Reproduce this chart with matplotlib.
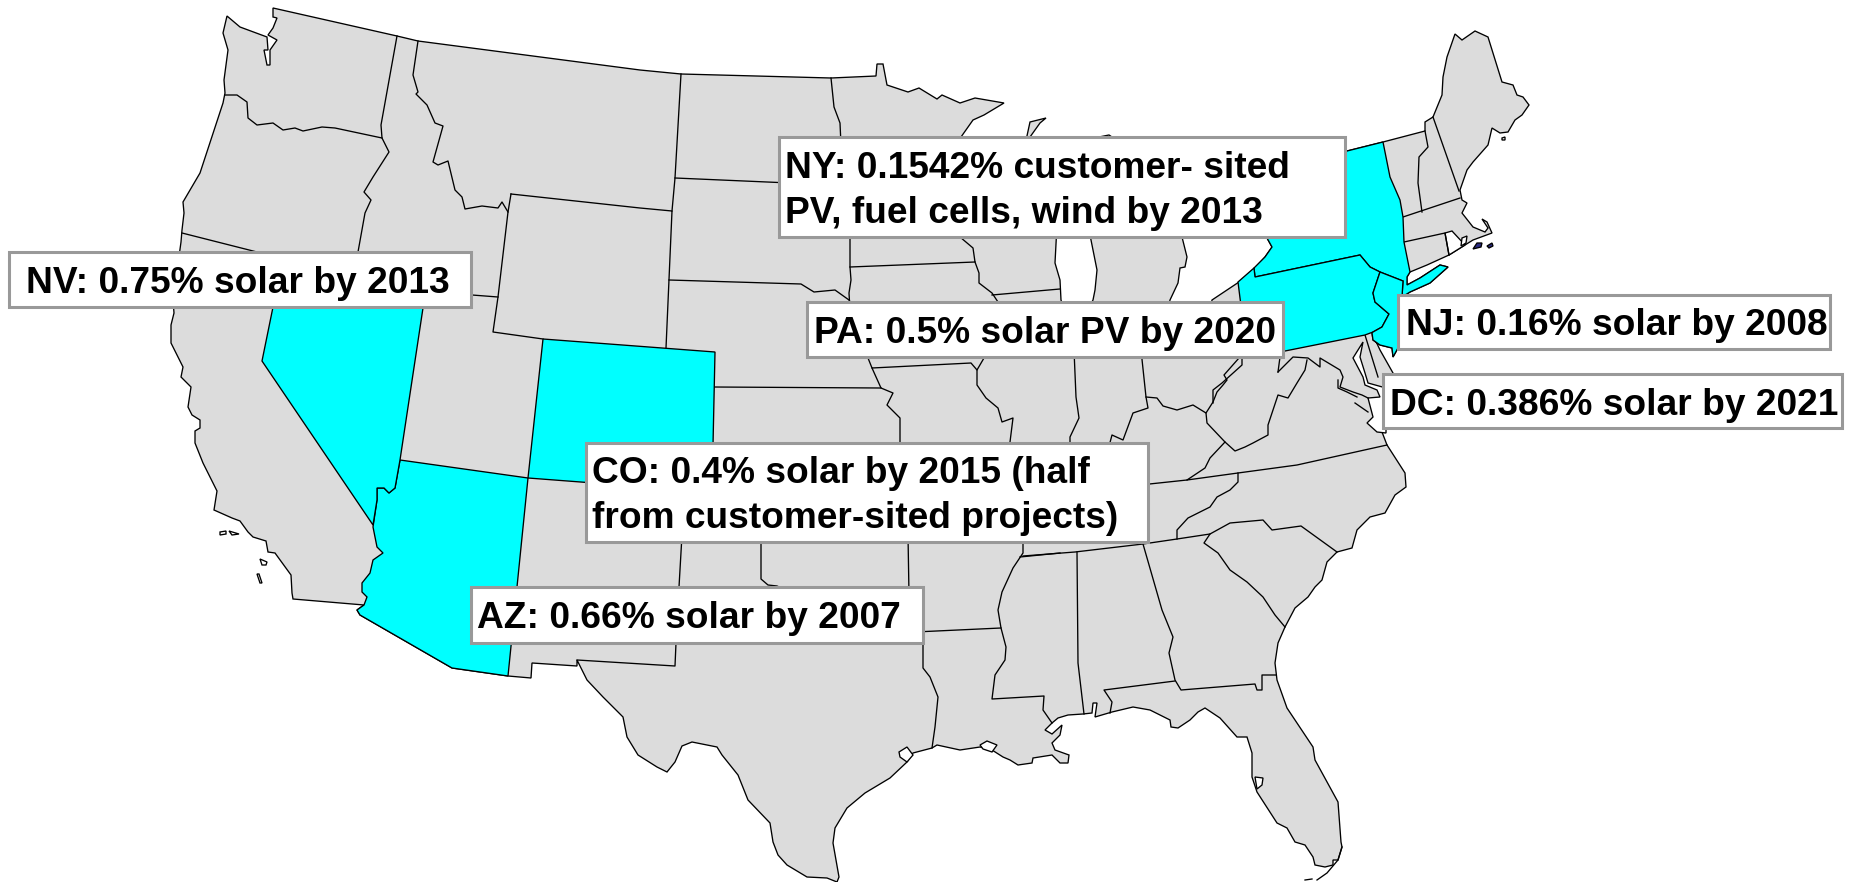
import matplotlib
matplotlib.use("Agg")
import matplotlib.pyplot as plt
from matplotlib.patches import Polygon, Rectangle

plt.rcParams['font.family'] = ['Liberation Sans', 'DejaVu Sans']

LAND = [(273,8),(397,36),(418,41),(640,70),(681,74),(831,78),(876,76),(877,64),(883,64),(887,85),(908,92),(919,88),(937,99),(942,95),(960,103),(975,98),(1004,103),(984,115),(973,120),(961,137),(955,145),(1025,145),(1030,122),(1046,118),(1040,123),(1030,137),(1030,145),(1099,145),(1099,137),(1109,135),(1112,137),(1115,145),(1178,230),(1182,237),(1187,257),(1185,267),(1180,268),(1178,283),(1170,300),(1168,310),(1210,310),(1212,300),(1239,282),(1255,268),(1265,257),(1272,247),(1267,238),(1265,228),(1340,160),(1347,151),(1383,142),(1425,131),(1425,122),(1433,117),(1442,95),(1443,77),(1447,57),(1455,34),(1462,40),(1475,31),(1488,37),(1502,82),(1513,85),(1517,95),(1523,97),(1529,105),(1522,115),(1515,120),(1508,132),(1500,133),(1492,128),(1488,145),(1473,162),(1467,170),(1460,190),(1462,200),(1467,203),(1462,213),(1473,227),(1485,232),(1488,228),(1482,219),(1487,222),(1492,233),(1473,240),(1465,245),(1449,255),(1427,265),(1410,272),(1407,277),(1407,285),(1420,278),(1440,265),(1448,267),(1430,283),(1410,292),(1402,297),(1400,330),(1398,348),(1393,357),(1392,348),(1380,345),(1373,340),(1372,333),(1380,350),(1393,373),(1396,390),(1390,420),(1382,432),(1387,445),(1405,473),(1406,487),(1395,495),(1385,513),(1370,517),(1357,530),(1352,548),(1337,552),(1327,562),(1322,580),(1315,587),(1308,597),(1295,608),(1285,627),(1278,643),(1275,663),(1277,680),(1287,708),(1313,747),(1315,760),(1338,802),(1341,842),(1342,847),(1338,860),(1333,860),(1333,865),(1325,867),(1315,865),(1313,857),(1305,845),(1295,842),(1287,828),(1277,823),(1257,792),(1252,777),(1252,753),(1247,737),(1237,737),(1220,718),(1205,708),(1198,712),(1190,720),(1178,728),(1171,727),(1170,720),(1150,710),(1133,707),(1112,712),(1095,717),(1097,703),(1093,703),(1092,713),(1083,714),(1068,715),(1058,718),(1052,723),(1045,730),(1052,734),(1062,725),(1060,735),(1052,743),(1055,750),(1069,755),(1068,763),(1060,763),(1052,755),(1033,758),(1032,763),(1018,765),(1010,760),(1003,757),(992,750),(980,747),(960,750),(937,745),(932,748),(913,753),(907,762),(890,778),(865,793),(847,808),(835,828),(833,843),(839,877),(837,882),(827,878),(807,877),(787,865),(778,855),(773,842),(770,823),(748,800),(738,775),(722,755),(717,747),(692,742),(682,746),(675,762),(667,772),(657,767),(638,755),(627,737),(623,717),(603,697),(587,680),(577,660),(577,666),(532,663),(531,678),(508,676),(452,668),(360,615),(357,610),(364,605),(293,599),(292,593),(291,575),(275,553),(268,552),(266,541),(253,537),(248,532),(240,521),(232,518),(214,510),(217,491),(213,483),(203,463),(195,443),(195,431),(200,428),(200,420),(192,415),(188,407),(191,387),(181,377),(183,367),(171,343),(171,325),(174,313),(173,300),(181,242),(182,230),(184,213),(183,202),(200,173),(223,103),(225,93),(224,80),(228,50),(223,33),(227,16),(240,27),(267,37),(268,50),(264,50),(267,65),(270,65),(270,50),(277,40),(268,35),(273,28),(277,18),(273,17)]

ARIZONA = [(400,460),(528,478),(508,676),(452,668),(360,615),(357,610),(364,605),(367,597),(362,592),(362,583),(370,573),(373,560),(383,553),(377,547),(373,527),(377,500),(377,488),(384,488),(389,493),(395,488)]
NEVADA = [(283,258),(431,262),(423,308),(400,460),(395,488),(389,493),(384,488),(377,488),(377,500),(373,525),(262,361)]
COLORADO = [(543,339),(715,352),(712,492),(528,478)]
NEW_YORK = [(1267,238),(1272,247),(1265,257),(1254,268),(1255,277),(1360,255),(1370,267),(1380,272),(1403,281),(1402,297),(1410,292),(1430,283),(1448,267),(1440,265),(1420,278),(1407,285),(1407,277),(1410,272),(1404,242),(1403,217),(1400,200),(1390,177),(1383,142),(1347,151),(1330,170),(1280,220)]
PENNSYLVANIA = [(1238,282),(1254,268),(1255,277),(1360,255),(1370,267),(1380,272),(1373,293),(1375,302),(1389,314),(1382,327),(1373,332),(1365,335),(1250,358),(1244,330)]
NEW_JERSEY = [(1380,272),(1403,281),(1402,297),(1398,348),(1393,357),(1392,348),(1380,345),(1373,340),(1372,333),(1373,332),(1382,327),(1389,314),(1375,302),(1373,293)]
HIGHLIGHTED = [ARIZONA, NEVADA, COLORADO, NEW_YORK, PENNSYLVANIA, NEW_JERSEY]

LAKE_MICHIGAN = [(1057,225),(1088,225),(1097,270),(1095,290),(1093,300),(1085,315),(1066,315),(1061,300),(1060,280),(1055,263)]
CHESAPEAKE = [(1363,342),(1353,358),(1363,377),(1365,385),(1377,390),(1380,397),(1368,398),(1373,417),(1367,423),(1377,432),(1386,433),(1386,388),(1368,383),(1365,373),(1360,357)]
SABINE = [(907,747),(899,752),(900,757),(907,762),(913,755)]
VERMILION = [(980,745),(987,741),(997,745),(992,752),(983,749)]
TAMPA = [(1255,777),(1263,778),(1262,785),(1257,789)]
RHODE_ISLAND = [(1445,233),(1452,231),(1465,245),(1449,255)]
WHITE_AREAS = [LAKE_MICHIGAN, CHESAPEAKE, SABINE, VERMILION, TAMPA, RHODE_ISLAND]

ISLANDS = [[(220,532),(226,531),(226,534),(220,535)],[(229,531),(239,534),(232,535)],[(260,559),(267,562),(266,565),(262,565)],[(257,574),(259,574),(262,583),(260,583)],[(1502,138),(1505,137),(1505,140),(1502,140)],[(1462,238),(1467,236),(1466,243),(1461,246)]]
BLUE_ISLANDS = [[(1473,249),(1477,243),(1482,243),(1481,247)],[(1487,246),(1492,243),(1493,246),(1489,248)]]
FLORIDA_KEYS = [[(1317,880),(1327,873),(1338,860),(1342,847)],[(1305,880),(1312,879)]]

BORDERS = [
 [(225,95),(237,95),(247,102),(248,118),(257,125),(273,123),(283,130),(295,128),(303,131),(322,127),(335,128),(382,138)],
 [(397,36),(381,125),(382,138),(389,152),(373,177),(364,192),(371,200),(365,213),(358,252),(350,300)],
 [(182,233),(257,252),(300,262)],
 [(418,41),(413,75),(418,92),(416,94),(427,105),(435,123),(443,126),(433,162),(438,165),(448,161),(455,190),(462,197),(465,209),(482,206),(498,208),(502,202),(508,212)],
 [(511,194),(508,212),(498,297),(493,332),(543,339)],
 [(472,295),(498,297)],
 [(511,194),(640,208),(672,211),(666,348)],
 [(681,74),(675,178),(672,211)],
 [(675,178),(790,183)],
 [(831,78),(834,107),(840,123),(841,145)],
 [(850,230),(850,267),(851,280),(849,293),(850,310)],
 [(669,280),(801,284),(814,292),(835,290),(849,300),(855,310)],
 [(850,267),(975,262),(973,248),(960,237),(955,230)],
 [(975,262),(979,273),(979,283),(992,293),(998,302),(1002,310)],
 [(992,295),(1060,289)],
 [(868,350),(868,358),(872,368),(971,363),(977,370),(984,358),(986,350)],
 [(872,368),(881,388),(893,393),(887,405),(900,418),(900,450)],
 [(713,387),(881,388)],
 [(977,370),(977,385),(986,398),(998,408),(1002,422),(1013,418),(1009,450)],
 [(1074,350),(1076,397),(1079,418),(1070,437),(1070,450)],
 [(1141,350),(1146,397),(1148,408),(1133,413),(1123,440),(1112,435),(1108,450)],
 [(1146,397),(1157,398),(1163,406),(1177,410),(1193,405),(1206,413),(1213,402),(1217,392),(1223,385),(1227,380),(1224,375),(1239,358),(1242,350)],
 [(1206,413),(1207,423),(1225,442),(1210,458),(1205,468),(1187,480)],
 [(1225,442),(1235,451),(1245,447),(1253,443),(1268,435),(1268,425),(1278,395),(1288,398),(1297,383),(1305,370),(1307,360)],
 [(1140,485),(1187,480),(1238,473),(1297,465),(1387,445)],
 [(1238,473),(1238,482),(1230,490),(1217,497),(1210,507),(1188,518),(1177,530),(1177,539)],
 [(1023,556),(1075,552),(1143,544),(1177,539),(1210,534),(1230,523),(1263,520),(1272,530),(1301,526),(1337,552)],
 [(1210,534),(1204,543),(1218,553),(1230,570),(1247,582),(1263,597),(1275,615),(1285,627)],
 [(1143,544),(1162,610),(1173,637),(1169,653),(1175,680),(1181,690),(1255,684),(1257,690),(1262,690),(1262,675),(1276,675)],
 [(1110,713),(1112,702),(1104,690),(1175,681)],
 [(1077,552),(1078,663),(1084,714)],
 [(1023,535),(1023,553),(1013,568),(1002,592),(998,610),(1001,628),(1006,647),(1005,660),(995,675),(992,699),(1044,696),(1043,710),(1052,723)],
 [(915,632),(1001,628)],
 [(923,635),(923,668),(930,677),(938,697),(935,727),(932,748)],
 [(761,535),(761,579),(768,585),(777,586),(790,592)],
 [(908,535),(909,595)],
 [(682,535),(679,587),(676,643),(675,666),(577,660)],
 [(1020,557),(1060,553)],
 [(1404,242),(1445,233),(1449,255)],
 [(1403,217),(1460,198)],
 [(1425,131),(1428,147),(1419,157),(1418,183),(1422,212)],
 [(1433,117),(1459,191)],
 [(1365,335),(1378,377)],
 [(1242,350),(1242,365),(1222,383),(1213,390),(1213,403)],
 [(1278,372),(1280,357)],
 [(1278,372),(1293,357),(1308,358),(1320,367),(1320,358),(1340,370),(1343,377),(1340,387),(1353,392),(1362,395),(1368,398)],
 [(1338,380),(1338,388),(1347,392),(1357,397)],
 [(1355,403),(1368,412)],
]

LABEL_LINES = [
 ["NV: 0.75% solar by 2013"],
 ["NY: 0.1542% customer- sited", "PV, fuel cells, wind by 2013"],
 ["PA: 0.5% solar PV by 2020"],
 ["NJ: 0.16% solar by 2008"],
 ["DC: 0.386% solar by 2021"],
 ["CO: 0.4% solar by 2015 (half", "from customer-sited projects)"],
 ["AZ: 0.66% solar by 2007"],
]
LABEL_BOXES = [(9,252,471,307),(779,137,1345,237),(807,302,1283,357),(1398,295,1830,349),(1383,374,1842,428),(586,443,1148,542),(471,587,923,643)]
LABEL_BASELINES = [[293],[178,223],[343],[335],[415],[483,528],[628]]
LABEL_LEFT = [26,785,814,1406,1390,592,477]

LAND_COLOR = '#dcdcdc'
HIGHLIGHT_COLOR = '#00ffff'
EDGE = '#000000'
LW = 0.95

fig = plt.figure(figsize=(18.51, 8.82), dpi=100, facecolor='white')
ax = fig.add_axes([0, 0, 1, 1])
ax.set_xlim(0, 1851)
ax.set_ylim(882, 0)
ax.axis('off')

ax.add_patch(Polygon(LAND, closed=True, fc=LAND_COLOR, ec=EDGE, lw=LW, zorder=1))
for poly in WHITE_AREAS:
    ax.add_patch(Polygon(poly, closed=True, fc='white', ec=EDGE, lw=LW, zorder=2))
for poly in HIGHLIGHTED:
    ax.add_patch(Polygon(poly, closed=True, fc=HIGHLIGHT_COLOR, ec=EDGE, lw=LW, zorder=3))
for line in BORDERS:
    ax.plot([p[0] for p in line], [p[1] for p in line], color=EDGE, lw=LW, zorder=2.5, solid_joinstyle='round')
for poly in ISLANDS:
    ax.add_patch(Polygon(poly, closed=True, fc='white', ec=EDGE, lw=LW, zorder=2))
for poly in BLUE_ISLANDS:
    ax.add_patch(Polygon(poly, closed=True, fc='#2a2a80', ec=EDGE, lw=LW, zorder=2))
for line in FLORIDA_KEYS:
    ax.plot([p[0] for p in line], [p[1] for p in line], color=EDGE, lw=LW, zorder=2)

for lines, box, bases, left in zip(LABEL_LINES, LABEL_BOXES, LABEL_BASELINES, LABEL_LEFT):
    x0, y0, x1, y1 = box
    ax.add_patch(Rectangle((x0, y0), x1-x0, y1-y0, fc='white', ec='#999999', lw=2.2, zorder=5))
    for s, b in zip(lines, bases):
        ax.text(left, b, s, fontsize=26.7, fontweight='bold', color='black', ha='left', va='baseline', zorder=6)

fig.savefig('out.png', dpi=100, facecolor='white')
